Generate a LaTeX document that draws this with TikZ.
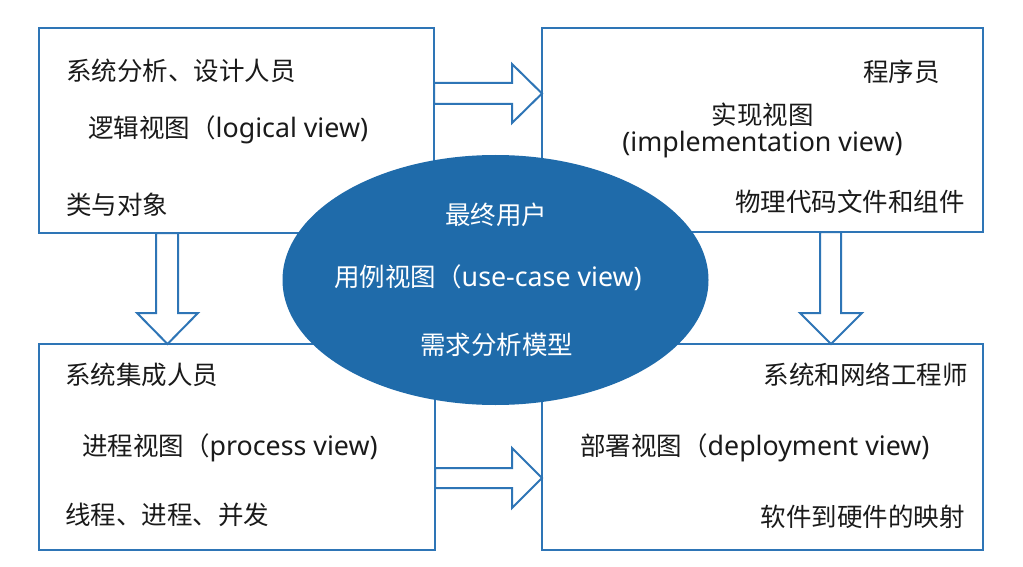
\documentclass[tikz,border=0pt]{standalone}
\usepackage{fontspec}
\setmainfont{Noto Sans CJK SC}
\newfontfamily\lat{Noto Sans}[Scale=1.05]
\usetikzlibrary{shapes.geometric,calc}
\definecolor{boxblue}{HTML}{2E75B6}
\definecolor{ellblue}{HTML}{1F6BAA}
\definecolor{txt}{HTML}{1A1A1A}
\begin{document}
\begin{tikzpicture}[x=1pt,y=-1pt,
  viewbox/.style={draw=boxblue, line width=2pt, rectangle, outer sep=0pt, inner sep=0pt},
  blockarrow/.style={draw=boxblue, line width=2pt, fill=white, line join=miter},
  lbl/.style={inner sep=0pt, text=txt, font=\fontsize{25.5}{30}\selectfont},
  wlbl/.style={lbl, text=white},
  usecase/.style={ellipse, fill=ellblue, draw=none, minimum width=426pt, minimum height=250pt, inner sep=0pt}]
\useasboundingbox (0,0) rectangle (1023,567);
\fill[white] (0,0) rectangle (1023,567);
% boxes
\node[viewbox, minimum width=395pt, minimum height=205pt, anchor=north west] (tl) at (39,28) {};
\node[viewbox, minimum width=441pt, minimum height=204pt, anchor=north west] (tr) at (542,28) {};
\node[viewbox, minimum width=396pt, minimum height=206pt, anchor=north west] (bl) at (39,344) {};
\node[viewbox, minimum width=441pt, minimum height=206pt, anchor=north west] (br) at (542,344) {};
% block arrows
\draw[blockarrow] ($(tl.north east)+(0,55)$) -- ++(78,0) -- ++(0,-19) -- ++(30,29.5) -- ++(-30,29.5) -- ++(0,-19) -- ++(-78,0) -- cycle;
\draw[blockarrow] ($(bl.north east)+(0,124)$) -- ++(77,0) -- ++(0,-20) -- ++(30,30) -- ++(-30,30) -- ++(0,-20) -- ++(-77,0) -- cycle;
\draw[blockarrow] ($(tl.south west)+(117,0)$) -- ++(0,80) -- ++(-19,0) -- ++(30.5,31) -- ++(30.5,-31) -- ++(-20,0) -- ++(0,-80) -- cycle;
\draw[blockarrow] ($(tr.south west)+(278,0)$) -- ++(0,81) -- ++(-20,0) -- ++(31,31) -- ++(31,-31) -- ++(-21,0) -- ++(0,-81) -- cycle;
% ellipse
\node[usecase] (uc) at (495.5,280) {};
% texts: logical view
\node[lbl, anchor=west] (tl1) at (66,71) {系统分析、设计人员};
\node[lbl, anchor=west] (tl2) at (88,130) {逻辑视图（{\lat logical view)}};
\node[lbl, anchor=west] (tl3) at (66,205) {类与对象};
% implementation view
\node[lbl, anchor=east] (tr1) at (940,72) {程序员};
\node[lbl] (tr2) at (762.5,115) {实现视图};
\node[lbl] (tr3) at (762.5,145) {\lat (implementation view)};
\node[lbl, anchor=east] (tr4) at (965,202) {物理代码文件和组件};
% process view
\node[lbl, anchor=west] (bl1) at (65,375) {系统集成人员};
\node[lbl, anchor=west] (bl2) at (82,448) {进程视图（{\lat process view)}};
\node[lbl, anchor=west] (bl3) at (65,515) {线程、进程、并发};
% deployment view
\node[lbl, anchor=east] (br1) at (968,375) {系统和网络工程师};
\node[lbl, anchor=west] (br2) at (580,448) {部署视图（{\lat deployment view)}};
\node[lbl, anchor=east] (br3) at (965,517) {软件到硬件的映射};
% use case view
\node[wlbl] (uc1) at (496,215) {最终用户};
\node[wlbl] (uc2) at (488,278) {用例视图（{\lat use-case view)}};
\node[wlbl] (uc3) at (496.5,345) {需求分析模型};
\end{tikzpicture}
\end{document}
